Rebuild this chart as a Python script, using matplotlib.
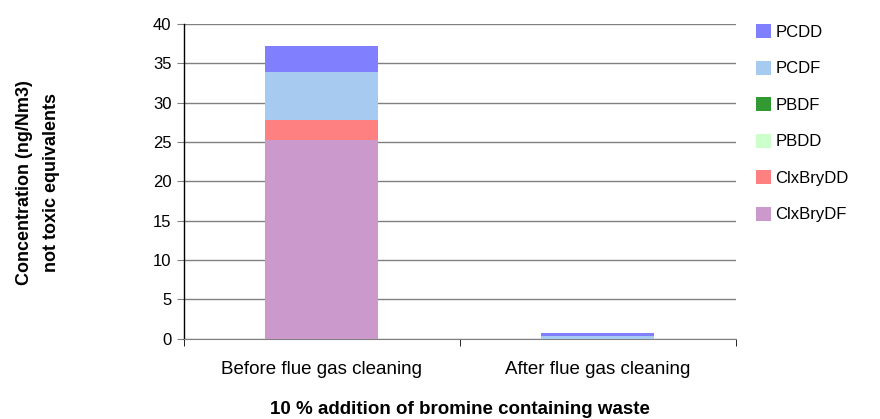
import numpy as np
import matplotlib
matplotlib.use("Agg")
from matplotlib import pyplot as plt
from matplotlib.patches import Patch

plt.rcParams['font.family'] = ['Liberation Sans', 'DejaVu Sans']

categories = ['Before flue gas cleaning', 'After flue gas cleaning']
# stacked from bottom to top
series = ['ClxBryDF', 'ClxBryDD', 'PBDD', 'PBDF', 'PCDF', 'PCDD']
values = {
    'ClxBryDF': [25.2, 0.0],
    'ClxBryDD': [2.6, 0.0],
    'PBDD': [0.0, 0.0],
    'PBDF': [0.0, 0.0],
    'PCDF': [6.1, 0.3],
    'PCDD': [3.3, 0.45],
}
colors = {
    'ClxBryDF': '#CC99CC',
    'ClxBryDD': '#FF8080',
    'PBDD': '#CCFFCC',
    'PBDF': '#339933',
    'PCDF': '#A6CAF0',
    'PCDD': '#8080FF',
}
yticks = np.arange(0, 41, 5)

fig = plt.figure(figsize=(8.8, 4.19), dpi=100)
ax = fig.add_axes([0.209, 0.192, 0.627, 0.751])

x = np.arange(len(categories))
bottom = np.zeros(len(categories))
for s in series:
    v = np.array(values[s])
    ax.bar(x, v, bottom=bottom, width=0.41, color=colors[s], zorder=3)
    bottom += v

ax.set_xlim(-0.5, len(categories) - 0.5)
ax.set_ylim(0, 40)
ax.set_yticks(yticks)
ax.yaxis.grid(True, color='#808080', lw=1.0, zorder=0)
ax.set_axisbelow(True)

for sp in ['top', 'right']:
    ax.spines[sp].set_visible(False)
ax.spines['left'].set_color('black')
ax.spines['bottom'].set_color('#808080')
ax.spines['left'].set_linewidth(1.0)

ax.set_xticks(x)
ax.set_xticklabels(categories, fontsize=13.5)
ax.tick_params(axis='x', length=0, pad=16)
ax.set_xticks(np.arange(-0.5, len(categories), 1.0), minor=True)
ax.tick_params(axis='x', which='minor', length=5, color='black')
ax.tick_params(axis='y', labelsize=12, length=5, color='#808080', pad=4)

ax.set_xlabel('10 % addition of bromine containing waste', fontsize=13.5,
              fontweight='bold', labelpad=17)
fig.text(0.043, 0.565, 'Concentration (ng/Nm3)\nnot toxic equivalents',
         rotation=90, ha='center', va='center', fontsize=13,
         fontweight='bold', multialignment='center', linespacing=1.75)

handles = [Patch(facecolor=colors[s], label=s) for s in reversed(series)]
fig.legend(handles=handles, loc='upper left', bbox_to_anchor=(0.852, 0.958),
           frameon=False, fontsize=12, handlelength=0.9, handleheight=0.9,
           handletextpad=0.25, labelspacing=1.25, borderaxespad=0)

fig.savefig('out.png', dpi=100)
